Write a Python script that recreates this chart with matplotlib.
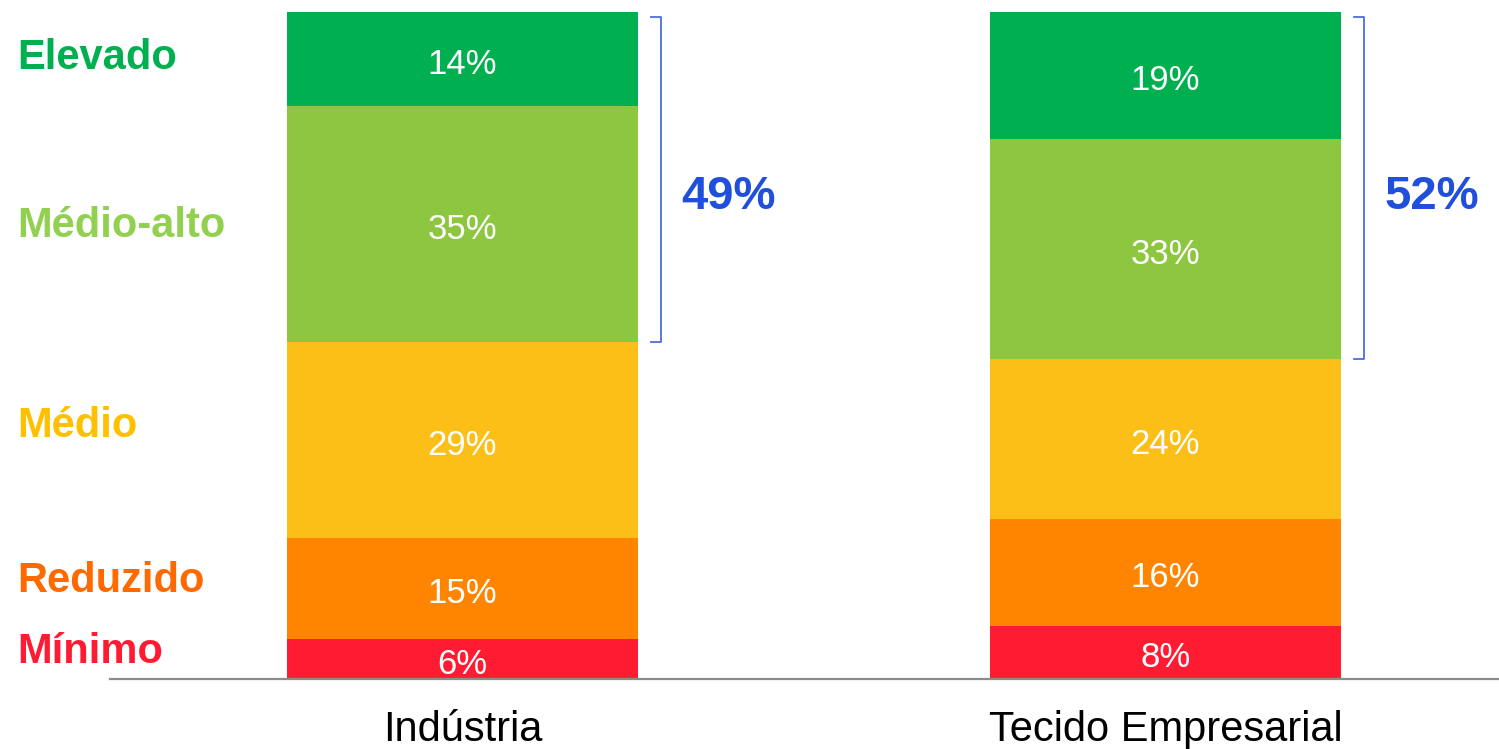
import matplotlib.pyplot as plt
import matplotlib
import numpy as np

matplotlib.rcParams['font.family'] = ['Liberation Sans', 'DejaVu Sans']

# dados
categorias = ['Indústria', 'Tecido Empresarial']
niveis = ['Mínimo', 'Reduzido', 'Médio', 'Médio-alto', 'Elevado']
industria = [6, 15, 29, 35, 14]
tecido = [8, 16, 24, 33, 19]

cores_barras = ['#FF1C33', '#FF8500', '#FCBF17', '#8DC63F', '#00B050']
cores_rotulos = ['#FF1C33', '#FF6A00', '#FFC000', '#92D050', '#00B050']
azul = '#1F4FDB'

fig = plt.figure(figsize=(14.99, 7.49), dpi=100)
ax = fig.add_axes([110 / 1499, 70 / 749, 1389 / 1499, 667 / 749])

x = np.arange(len(categorias))
largura = 0.5
dados = np.array([industria, tecido], dtype=float)
norm = dados / dados.sum(axis=1, keepdims=True) * 100

base = np.zeros(len(categorias))
for j in range(len(niveis)):
    ax.bar(x, norm[:, j], largura, bottom=base, color=cores_barras[j], linewidth=0)
    for i in range(len(categorias)):
        ax.text(x[i], base[i] + norm[i, j] / 2 - 0.8, f'{int(dados[i, j])}%',
                ha='center', va='center', color='white', fontsize=25)
    base += norm[:, j]

# rótulos à esquerda (alinhados com a Indústria)
cum = np.cumsum(norm[0]) - norm[0] / 2
ajuste = [1.0, 1.0, 2.0, -0.2, 0.2]
for j, nome in enumerate(niveis):
    ax.text(-0.51 - 87 / 703, cum[j] + ajuste[j], nome, ha='left', va='center',
            color=cores_rotulos[j], fontsize=30, fontweight='bold', clip_on=False)

# chavetas dos níveis mais elevados
for i in range(len(categorias)):
    baixo = norm[i, :3].sum()
    topo = 99.3
    xr = x[i] + largura / 2 + 0.032
    ax.plot([xr - 0.014, xr, xr, xr - 0.014], [topo, topo, baixo, baixo],
            color='#4A6FE0', lw=1.3, clip_on=False)
    total = int(dados[i, 3] + dados[i, 4])
    ax.text(xr + 0.097, 72.3, f'{total}%', ha='center', va='center',
            color=azul, fontsize=34, fontweight='bold')

ax.set_xlim(-0.5014, 1.4744)
ax.set_ylim(0, 100)
ax.set_xticks(x)
ax.set_xticklabels(categorias, fontsize=30)
ax.tick_params(axis='x', length=0, pad=22)
ax.set_yticks([])
for s in ['top', 'right', 'left']:
    ax.spines[s].set_visible(False)
ax.spines['bottom'].set_color('#8C8C8C')
ax.spines['bottom'].set_linewidth(1.6)

plt.savefig('out.png', dpi=100)
